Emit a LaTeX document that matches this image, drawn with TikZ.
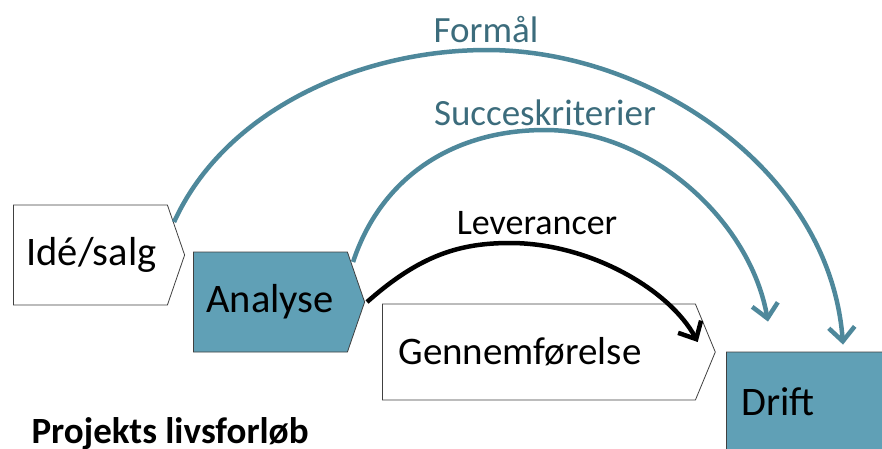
\documentclass[tikz,border=0pt]{standalone}
\usepackage{fontspec}
\setmainfont{Carlito}
\usetikzlibrary{shapes.symbols,arrows.meta,calc}
\definecolor{tealfill}{RGB}{96,160,182}
\definecolor{tealline}{RGB}{78,136,155}
\definecolor{tealtext}{RGB}{60,108,124}

\begin{document}
\begin{tikzpicture}[
	x=1pt, y=-1pt,
	fase/.style={signal, signal to=east, signal pointer angle=142, draw=black!75, line width=0.8pt,
		minimum height=100pt, inner xsep=13pt, inner ysep=0pt, align=left, anchor=west,
		font=\fontsize{40.5}{42}\selectfont},
	hvid/.style={fase, fill=white},
	blaa/.style={fase, fill=tealfill},
	maal/.style={line width=4.5pt, tealline, -{Straight Barb[length=14pt,width=26pt]}},
	lev/.style={line width=4.5pt, black, -{Straight Barb[length=14pt,width=26pt]}},
	lbl/.style={anchor=base, font=\fontsize{37}{40}\selectfont, text=tealtext}
]
\useasboundingbox (0,0) rectangle (882,448);

% Faserne
\node[hvid, text width=128pt] (ide) at (13,255) {Idé/salg};
\node[blaa, text width=128pt] (analyse) at (193,302) {Analyse};
\node[hvid, text width=281pt, minimum height=96pt, inner xsep=16pt, signal pointer angle=135,
	font=\fontsize{39}{42}\selectfont] (gennem) at (382,352) {Gennemførelse};
\node[blaa, text width=128pt, inner xsep=15pt] (drift) at (726,402) {Drift};

% Buerne
\draw[maal] ($(ide.east)+(-11,-33)$) .. controls (225,110) and (360,50) .. (487,50)
	.. controls (650,50) and (830,170) .. ($(drift.west |- drift.north)+(117,-7)$);
\draw[maal] ($(analyse.east)+(-12,-40)$) .. controls (380,180) and (450,130) .. (545,130)
	.. controls (650,130) and (750,220) .. ($(drift.west |- drift.north)+(42,-30)$);
\draw[lev] ($(analyse.east)+(2,0)$) .. controls (420,255) and (460,243) .. (510,243)
	.. controls (590,243) and (670,290) .. ($(gennem.east)+(-18,-10)$);

% Tekster over buerne
\node[lbl] (formaal) at (486,42) {Formål};
\node[lbl] (succes) at (545,125) {Succeskriterier};
\node[lbl, text=black, font=\fontsize{36}{40}\selectfont] (lever) at (537,234) {Leverancer};

\node[anchor=base west, font=\bfseries\fontsize{37}{40}\selectfont] (titel) at (28,443) {Projekts livsforløb};
\end{tikzpicture}
\end{document}
